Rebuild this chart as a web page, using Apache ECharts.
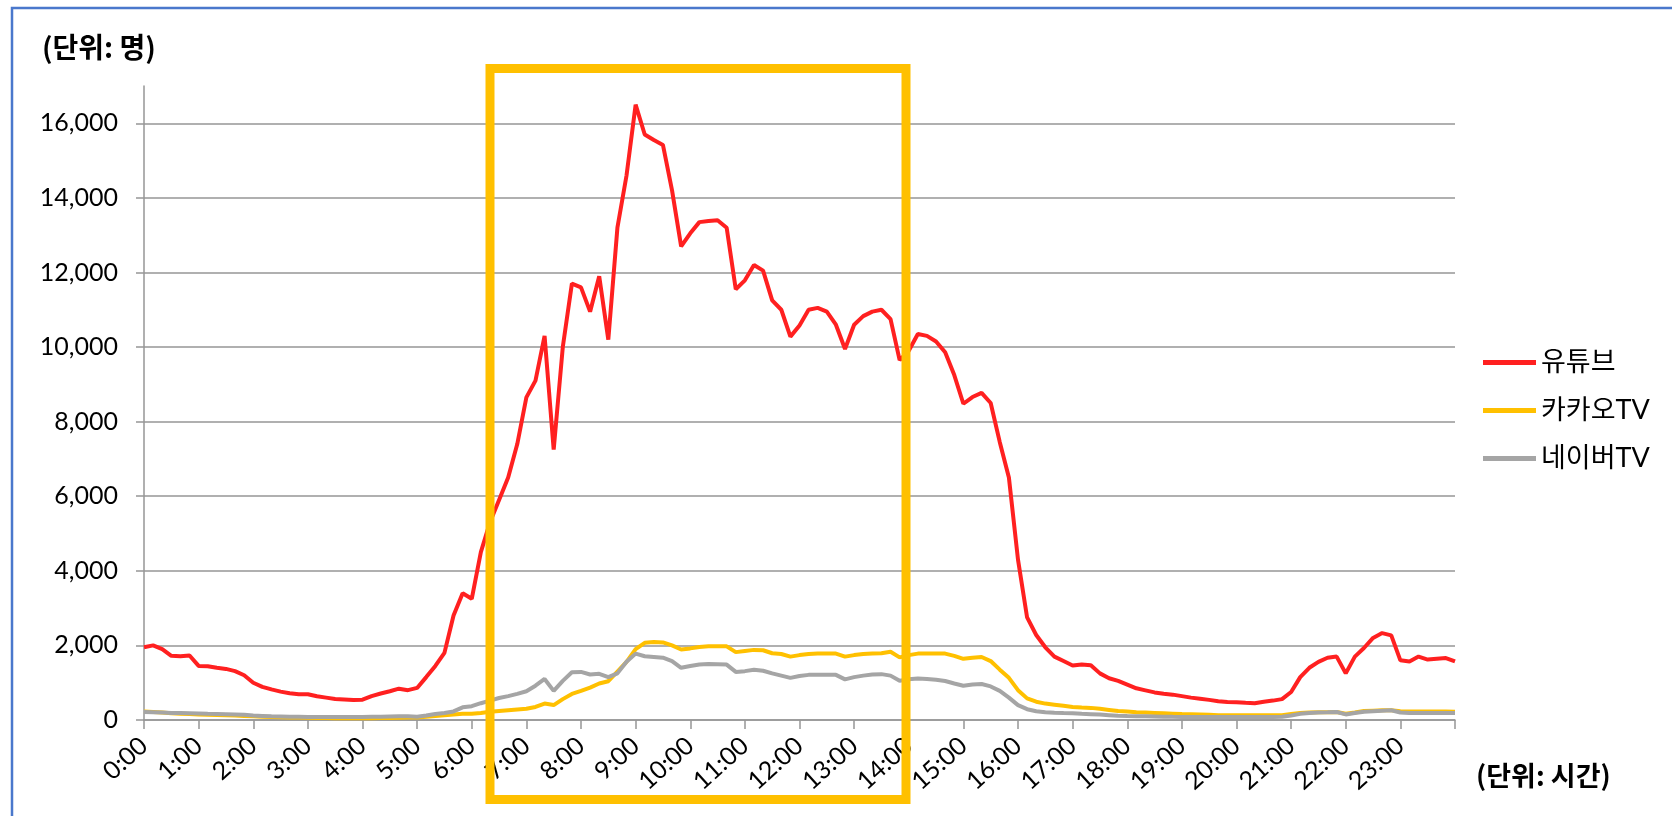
<!DOCTYPE html>
<html>
<head>
<meta charset="utf-8">
<title>시간대별 시청자 수</title>
<script src="https://cdn.jsdelivr.net/npm/echarts@6/dist/echarts.min.js"></script>
<style>
html,body{margin:0;padding:0;background:#fff;}
#main{width:1672px;height:816px;}
</style>
</head>
<body>
<div id="main"></div>
<script>
// 시간 라벨 (1시간 단위)
var hourLabels = ['0:00','1:00','2:00','3:00','4:00','5:00','6:00','7:00','8:00','9:00','10:00','11:00',
    '12:00','13:00','14:00','15:00','16:00','17:00','18:00','19:00','20:00','21:00','22:00','23:00','24:00'];
var yTicks = [0,2000,4000,6000,8000,10000,12000,14000,16000];
var seriesNames = ['유튜브','카카오TV','네이버TV'];

// 10분 단위 시청자 수
var youtube = [
    1950,2000,1900,1720,1710,1730,
    1450,1440,1400,1370,1310,1200,
    1000,890,820,760,715,690,
    690,635,600,565,550,535,
    545,640,710,770,840,800,
    860,1150,1450,1800,2800,3400,
    3250,4500,5300,5900,6500,7400,
    8650,9100,10300,7250,10000,11700,
    11600,10950,11900,10200,13200,14600,
    16500,15700,15550,15420,14200,12700,
    13050,13350,13380,13400,13200,11550,
    11790,12200,12050,11250,11000,10280,
    10580,11000,11050,10950,10600,9950,
    10600,10830,10950,11000,10750,9650,
    9900,10350,10300,10150,9860,9250,
    8480,8660,8770,8500,7450,6500,
    4300,2750,2280,1950,1700,1580,
    1460,1490,1470,1250,1120,1050,
    950,850,795,740,705,680,
    640,600,570,540,505,485,
    475,460,450,490,520,560,
    750,1150,1400,1560,1670,1700,
    1250,1700,1930,2200,2330,2270,
    1600,1570,1700,1620,1640,1660,
    1570
];
var kakao = [
    230,215,200,180,170,160,
    150,140,135,130,120,110,
    100,90,80,75,70,65,
    60,55,55,50,50,50,
    50,50,55,55,60,65,
    70,90,110,130,150,165,
    170,190,220,240,260,280,
    300,350,440,400,560,700,
    780,870,980,1040,1300,1560,
    1900,2070,2090,2080,2000,1890,
    1920,1960,1975,1975,1975,1820,
    1850,1880,1870,1790,1770,1700,
    1740,1770,1780,1780,1780,1700,
    1740,1770,1780,1790,1830,1680,
    1740,1780,1780,1780,1780,1720,
    1640,1670,1690,1580,1350,1130,
    800,580,490,440,410,380,
    350,335,325,300,270,240,
    225,210,200,190,180,170,
    160,155,150,140,130,125,
    125,125,125,125,125,130,
    160,190,200,205,210,215,
    170,200,240,250,260,260,
    235,225,225,225,225,225,
    220
];
var naver = [
    215,210,200,190,185,180,
    175,165,160,155,150,140,
    120,110,100,95,90,85,
    80,80,80,80,80,80,
    80,85,90,95,100,100,
    90,120,160,190,230,340,
    370,450,520,590,640,700,
    770,920,1100,780,1050,1280,
    1290,1220,1240,1150,1250,1560,
    1780,1710,1690,1670,1580,1400,
    1450,1490,1500,1495,1485,1290,
    1310,1350,1320,1250,1190,1130,
    1180,1210,1215,1210,1210,1090,
    1150,1190,1220,1230,1190,1050,
    1090,1110,1100,1080,1045,980,
    920,950,965,900,780,600,
    400,290,235,210,195,185,
    180,165,155,145,130,115,
    108,103,100,95,90,85,
    82,80,80,80,80,80,
    80,80,80,80,80,85,
    120,165,185,200,205,215,
    150,185,220,235,250,260,
    200,190,190,190,190,190,
    190
];

// 카테고리: 0:00, 0:10, ... 24:00
var times = [];
for(var h=0;h<24;h++){
    for(var m=0;m<6;m++){
        times.push(hourLabels[h].replace(':00', ':'+m+'0'));
    }
}
times.push(hourLabels[24]);

var latin = "Lato, 'Noto Sans CJK KR', sans-serif";
var korean = "'Noto Sans CJK KR', sans-serif";
var gridColor = '#969696';

var chart = echarts.init(document.getElementById('main'));
var option = {
    animation: false,
    backgroundColor: '#FFFFFF',
    color: ['#FF2020','#FFC000','#A5A5A5'],
    grid: {
        left: 144,
        right: 217,
        top: 86,
        bottom: 96,
        containLabel: false,
        outerBoundsMode: 'none'
    },
    legend: {
        orient: 'vertical',
        left: 1483,
        top: 349,
        padding: 0,
        icon: 'rect',
        itemWidth: 53,
        itemHeight: 5,
        itemGap: 21,
        textStyle: {
            fontFamily: latin,
            fontSize: 27,
            color: '#000'
        },
        data: seriesNames
    },
    xAxis: {
        type: 'category',
        boundaryGap: false,
        data: times,
        axisLine: {
            lineStyle: { color: gridColor, width: 1.5 }
        },
        axisTick: {
            interval: 5,
            length: 9,
            lineStyle: { color: gridColor, width: 1.5 }
        },
        axisLabel: {
            interval: 5,
            rotate: 42,
            margin: 22,
            fontFamily: latin,
            fontSize: 25,
            color: '#000',
            formatter: function(val){
                return val == hourLabels[24] ? '' : val;
            }
        },
        splitLine: { show: false }
    },
    yAxis: {
        type: 'value',
        min: 0,
        max: 17000,
        interval: 2000,
        axisLine: {
            show: true,
            lineStyle: { color: gridColor, width: 1.5 }
        },
        axisTick: {
            show: true,
            length: 8,
            customValues: yTicks,
            lineStyle: { color: gridColor, width: 1.5 }
        },
        axisLabel: {
            margin: 26,
            customValues: yTicks,
            fontFamily: latin,
            fontSize: 25,
            color: '#000',
            formatter: function(val){
                return val.toLocaleString('en-US');
            }
        },
        splitLine: {
            lineStyle: { color: gridColor, width: 1.5 }
        }
    },
    series: [
        {
            name: seriesNames[0],
            type: 'line',
            data: youtube,
            symbol: 'none',
            lineStyle: { width: 4 }
        },
        {
            name: seriesNames[1],
            type: 'line',
            data: kakao,
            symbol: 'none',
            lineStyle: { width: 4 }
        },
        {
            name: seriesNames[2],
            type: 'line',
            data: naver,
            symbol: 'none',
            lineStyle: { width: 4 }
        }
    ],
    graphic: [
        // 바깥 테두리
        {
            type: 'polyline',
            z: 50,
            shape: { points: [[12,816],[12,8],[1672,8]] },
            style: { stroke: '#4A78CC', lineWidth: 2.5, fill: null }
        },
        // 강조 박스
        {
            type: 'rect',
            z: 100,
            shape: { x: 490, y: 68.5, width: 416, height: 731 },
            style: { stroke: '#FFC000', lineWidth: 9, fill: null }
        },
        {
            type: 'text',
            z: 100,
            style: {
                text: '(단위: 명)',
                x: 42, y: 47,
                verticalAlign: 'middle',
                font: 'bold 28px ' + korean,
                fill: '#000'
            }
        },
        {
            type: 'text',
            z: 100,
            style: {
                text: '(단위: 시간)',
                x: 1476, y: 776,
                verticalAlign: 'middle',
                font: 'bold 27px ' + korean,
                fill: '#000'
            }
        }
    ]
};
chart.setOption(option);
</script>
</body>
</html>
